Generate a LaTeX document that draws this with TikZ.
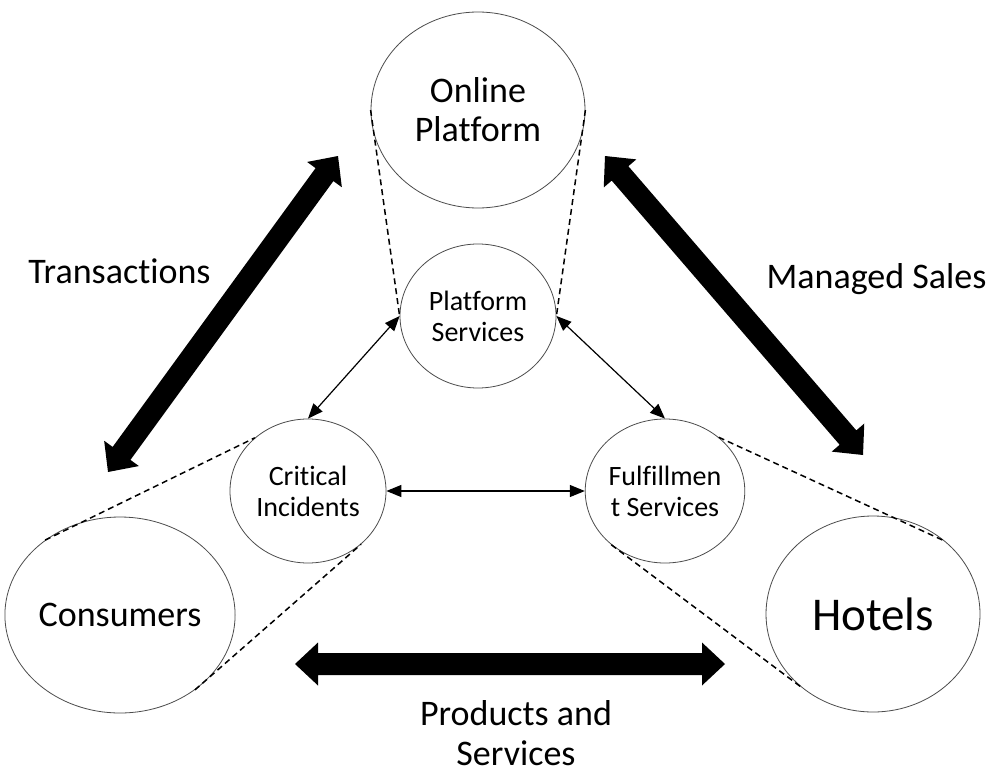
\documentclass[tikz,border=0pt]{standalone}
\usepackage{fontspec}
\setmainfont{Carlito}[Ligatures=NoCommon]
\usetikzlibrary{calc,shapes.geometric,arrows.meta}

% double-headed block arrow between two named coordinates
\newcommand\drawblockarrow[2]{%
  \coordinate (#1b) at ($(#1)!23pt!(#2)$);
  \coordinate (#2b) at ($(#2)!23pt!(#1)$);
  \fill[black]
    (#1)
    -- ($(#1b)!21.5pt!90:(#2)$) -- ($(#1b)!11pt!90:(#2)$)
    -- ($(#2b)!11pt!-90:(#1)$) -- ($(#2b)!21.5pt!-90:(#1)$)
    -- (#2)
    -- ($(#2b)!21.5pt!90:(#1)$) -- ($(#2b)!11pt!90:(#1)$)
    -- ($(#1b)!11pt!-90:(#2)$) -- ($(#1b)!21.5pt!-90:(#2)$)
    -- cycle;
}

\tikzset{
  bubble/.style={ellipse, draw=black!70, line width=0.8pt, inner sep=0pt, align=center},
  bigbubble/.style={bubble, minimum width=214pt, minimum height=196pt,
    font=\fontsize{36}{39}\selectfont},
  smallbubble/.style={bubble, minimum width=156pt, minimum height=144pt,
    font=\fontsize{28}{31}\selectfont},
  link/.style={line width=1.2pt,
    {Triangle[length=15pt,width=12pt]}-{Triangle[length=15pt,width=12pt]}},
  zoomline/.style={line width=1.5pt, dash pattern=on 6pt off 4pt},
  caption/.style={font=\fontsize{36}{40}\selectfont, align=center, inner sep=0pt}
}

\begin{document}
\begin{tikzpicture}[x=1pt, y=-1pt]
  \useasboundingbox[fill=white] (0,0) rectangle (992,773);

  % actors and service areas
  \node[bigbubble] (op) at (478,110) {Online\\Platform};
  \node[bigbubble] (co) at (120,615) {Consumers};
  \node[bigbubble, font=\fontsize{47}{50}\selectfont] (ho) at (873,614) {Hotels};
  \node[smallbubble] (ps) at (478,316) {Platform\\Services};
  \node[smallbubble] (ci) at (308,491) {Critical\\Incidents};
  \node[smallbubble] (fs) at (665,491) {Fulfillmen\\t Services};

  % dashed zoom lines from each actor to its service area
  \draw[zoomline] (op.west) -- (ps.west);
  \draw[zoomline] (op.east) -- (ps.east);
  \draw[zoomline] (co.135) -- (ci.135);
  \draw[zoomline] (co.-45) -- (ci.-45);
  \draw[zoomline] (fs.45) -- (ho.45);
  \draw[zoomline] (fs.225) -- (ho.225);

  % links between service areas
  \draw[link] (ps.west) -- (ci.north);
  \draw[link] (ps.east) -- (fs.north);
  \draw[link] (ci.east) -- (fs.west);

  % flows between actors
  \coordinate (ta) at (338,156);
  \coordinate (tb) at (108,472);
  \coordinate (ma) at (605,156);
  \coordinate (mb) at (863,455);
  \coordinate (pa) at (295,664);
  \coordinate (pb) at (725,664);
  \drawblockarrow{ta}{tb}
  \drawblockarrow{ma}{mb}
  \drawblockarrow{pa}{pb}

  \node[caption, anchor=base] (tlabel) at (119.5,283) {Transactions};
  \node[caption, anchor=base] (mlabel) at (876.5,288) {Managed Sales};
  \node[caption] (plabel) at (516,733) {Products and\\Services};
\end{tikzpicture}
\end{document}
